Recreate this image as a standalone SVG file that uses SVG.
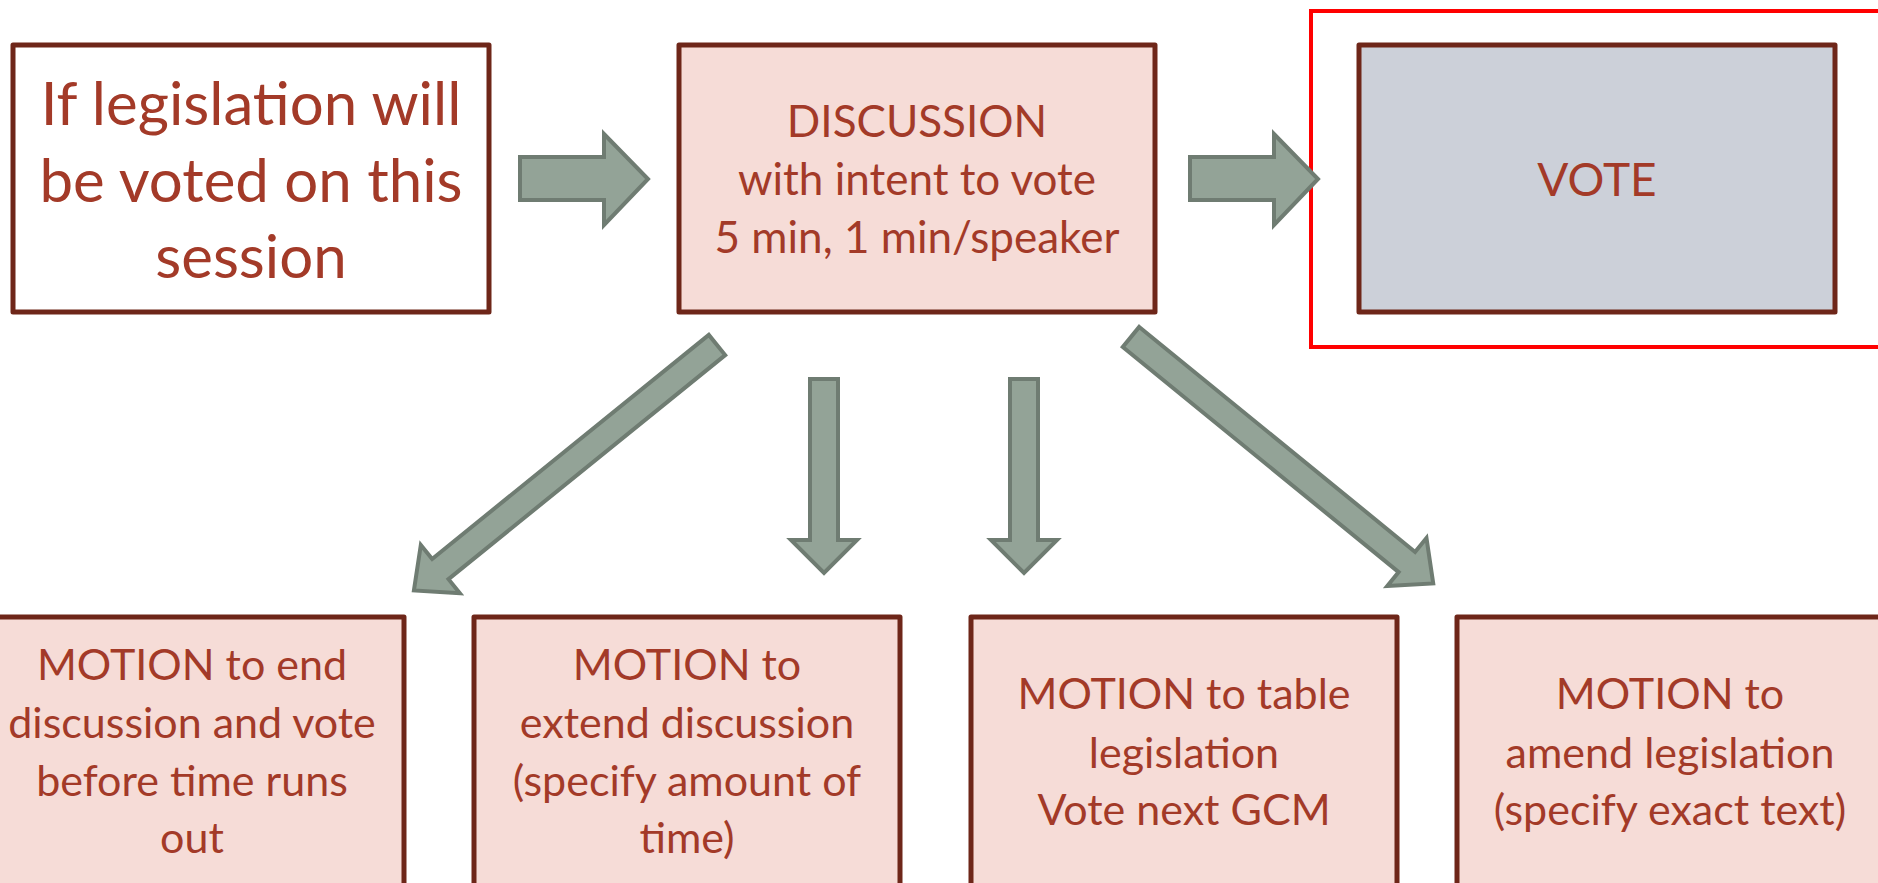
<svg xmlns="http://www.w3.org/2000/svg" width="1878" height="883" viewBox="0 0 1878 883">
<style>
.box{stroke:#6E2619;stroke-width:5;stroke-linejoin:round}
.pink{fill:#F6DCD7}
.t{font-family:Lato,"Open Sans","Liberation Sans",sans-serif;fill:#A33A28;text-anchor:middle}
.arr{fill:#93A397;stroke:#6F7C72;stroke-width:4;stroke-linejoin:miter}
</style>
<rect width="1878" height="883" fill="#ffffff"/>
<g id="node-start">
<rect class="box" x="13" y="45" width="476" height="267" fill="#ffffff"/>
<text class="t" font-size="60" x="251" y="125">If legislation will</text>
<text class="t" font-size="60" x="251" y="202">be voted on this</text>
<text class="t" font-size="60" x="251" y="278">session</text>
</g>
<g id="node-discussion">
<rect class="box pink" x="679" y="45" width="476" height="267"/>
<text class="t" font-size="44" x="917" y="137">DISCUSSION</text>
<text class="t" font-size="44" x="917" y="195">with intent to vote</text>
<text class="t" font-size="44" x="917" y="253">5 min, 1 min/speaker</text>
</g>
<g id="node-vote-frame">
<rect x="1311" y="11" width="580" height="336" fill="none" stroke="#FF0000" stroke-width="4"/>
</g>
<g id="node-vote">
<rect class="box" x="1359" y="45" width="476" height="267" fill="#CCD0D9"/>
<text class="t" font-size="46" x="1597" y="196">VOTE</text>
</g>
<g id="node-motion-end">
<rect class="box pink" x="-22" y="617" width="426" height="290"/>
<text class="t" font-size="43" x="192" y="680">MOTION to end</text>
<text class="t" font-size="43" x="192" y="738">discussion and vote</text>
<text class="t" font-size="43" x="192" y="796">before time runs</text>
<text class="t" font-size="43" x="192" y="853">out</text>
</g>
<g id="node-motion-extend">
<rect class="box pink" x="474" y="617" width="426" height="290"/>
<text class="t" font-size="43" x="687" y="680">MOTION to</text>
<text class="t" font-size="43" x="687" y="738">extend discussion</text>
<text class="t" font-size="43" x="687" y="796">(specify amount of</text>
<text class="t" font-size="43" x="687" y="853">time)</text>
</g>
<g id="node-motion-table">
<rect class="box pink" x="971" y="617" width="426" height="290"/>
<text class="t" font-size="43" x="1184" y="709">MOTION to table</text>
<text class="t" font-size="43" x="1184" y="768">legislation</text>
<text class="t" font-size="43" x="1184" y="825">Vote next GCM</text>
</g>
<g id="node-motion-amend">
<rect class="box pink" x="1457" y="617" width="426" height="290"/>
<text class="t" font-size="43" x="1670" y="709">MOTION to</text>
<text class="t" font-size="43" x="1670" y="768">amend legislation</text>
<text class="t" font-size="43" x="1670" y="825">(specify exact text)</text>
</g>
<g id="connectors">
<polygon class="arr" points="520,157 604,157 604,134 648,179 604,225 604,200 520,200"/>
<polygon class="arr" points="1190,157 1274,157 1274,134 1318,179 1274,225 1274,200 1190,200"/>
<polygon class="arr" points="810,379 838,379 838,540 857,540 824,573 791,540 810,540"/>
<polygon class="arr" points="1010,379 1038,379 1038,540 1057,540 1024,573 991,540 1010,540"/>
<polygon class="arr" transform="translate(717,345) rotate(141)" points="0,-13 356,-13 356,-31 390,0 356,31 356,13 0,13"/>
<polygon class="arr" transform="translate(1131,337) rotate(39.2)" points="0,-13 356,-13 356,-31 390,0 356,31 356,13 0,13"/>
</g>
</svg>
